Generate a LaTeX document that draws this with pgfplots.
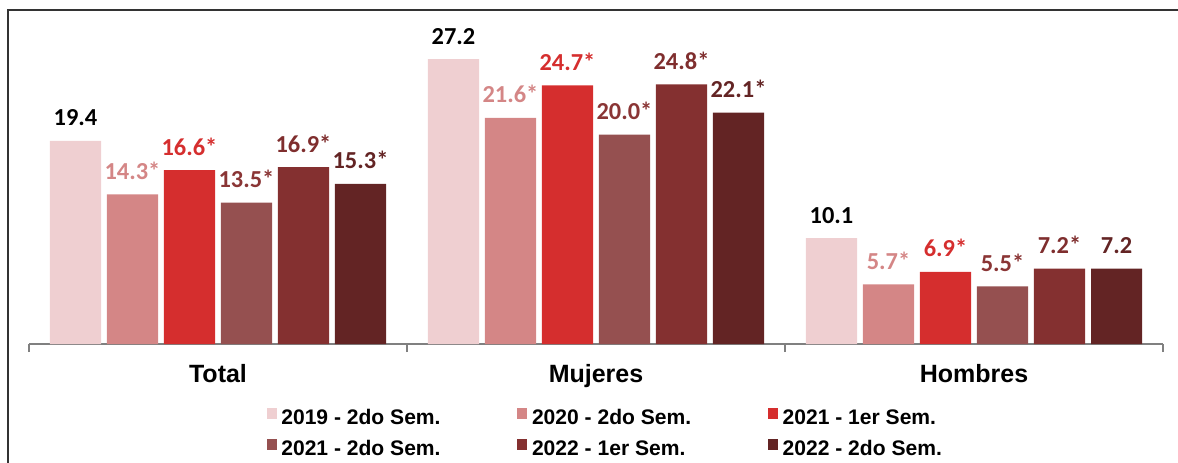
\documentclass[border=0pt]{standalone}
\usepackage{pgfplots}
\pgfplotsset{compat=1.18}
\usepackage{fontspec}
\setmainfont{Liberation Sans}
\newfontfamily\valfont{Carlito}

\definecolor{c1}{HTML}{EFCFD1}
\definecolor{c2}{HTML}{D48686}
\definecolor{c3}{HTML}{D52E2E}
\definecolor{c4}{HTML}{955050}
\definecolor{c5}{HTML}{843030}
\definecolor{c6}{HTML}{632424}
\definecolor{t4}{HTML}{8A3535}
\definecolor{t5}{HTML}{7F2E2E}

\begin{document}
\begin{tikzpicture}
  % frame round the chart, cut on the right and at the bottom
  \draw[black!80, line width=1.5pt] (6.2pt,-10pt) rectangle (895pt,339pt);
  \begin{axis}[
    at={(21.75pt,88.5pt)}, anchor=south west,
    scale only axis, width=850.5pt, height=235.6pt,
    xmin=-0.5, xmax=2.5, ymin=0, ymax=30,
    ybar, bar width=0.135,
    axis x line*=bottom, axis y line=none,
    x axis line style={-, draw=black!50, line width=0.9pt},
    tick align=outside,
    xtick={0,1,2}, xticklabels={Total,Mujeres,Hombres},
    major tick length=0pt,
    extra x ticks={-0.5,0.5,1.5,2.5},
    extra x tick labels={},
    extra x tick style={major tick length=6pt, tick style={draw=black!50, line width=0.9pt}},
    xticklabel style={font=\bfseries\fontsize{18.75}{18.75}\selectfont, anchor=base, yshift=-29pt},
    point meta=explicit symbolic,
    nodes near coords,
    nodes near coords style={font=\valfont\bfseries\fontsize{18.3}{18.3}\selectfont, anchor=base, inner sep=0pt, yshift=11.25pt},
    lg/.style={legend image code/.code={\fill[#1] (0pt,0pt) rectangle (7.5pt,8.5pt);}},
    legend cell align=left,
    legend style={at={(axis description cs:0.2096,-0.2025)}, anchor=north west,
      draw=none, fill=none, inner sep=0pt, outer sep=0pt,
      font=\bfseries\fontsize{15.8}{15.8}\selectfont,
      legend columns=3, row sep=8pt,
      nodes={inner sep=0pt, text height=11pt, text depth=3pt},
      /tikz/every odd column/.append style={column sep=3.5pt}},
  ]
    \addplot[fill=c1, draw=none, bar shift=-0.377, lg=c1,
      every node near coord/.append style={text=black}]
      coordinates {(0,19.4) [19.4] (1,27.2) [27.2] (2,10.1) [10.1]};
    \addlegendentry{\makebox[177pt][l]{2019 - 2do Sem.}}
    \addplot[fill=c2, draw=none, bar shift=-0.2262, lg=c2,
      every node near coord/.append style={text=c2}]
      coordinates {(0,14.3) [14.3*] (1,21.6) [21.6*] (2,5.7) [5.7*]};
    \addlegendentry{\makebox[177pt][l]{2020 - 2do Sem.}}
    \addplot[fill=c3, draw=none, bar shift=-0.0754, lg=c3,
      every node near coord/.append style={text=c3}]
      coordinates {(0,16.6) [16.6*] (1,24.7) [24.7*] (2,6.9) [6.9*]};
    \addlegendentry{\makebox[177pt][l]{2021 - 1er Sem.}}
    \addplot[fill=c4, draw=none, bar shift=0.0754, lg=c4,
      every node near coord/.append style={text=t4}]
      coordinates {(0,13.5) [13.5*] (1,20.0) [20.0*] (2,5.5) [5.5*]};
    \addlegendentry{\makebox[177pt][l]{2021 - 2do Sem.}}
    \addplot[fill=c5, draw=none, bar shift=0.2262, lg=c5,
      every node near coord/.append style={text=t5}]
      coordinates {(0,16.9) [16.9*] (1,24.8) [24.8*] (2,7.2) [7.2*]};
    \addlegendentry{\makebox[177pt][l]{2022 - 1er Sem.}}
    \addplot[fill=c6, draw=none, bar shift=0.377, lg=c6,
      every node near coord/.append style={text=c6}]
      coordinates {(0,15.3) [15.3*] (1,22.1) [22.1*] (2,7.2) [7.2]};
    \addlegendentry{\makebox[177pt][l]{2022 - 2do Sem.}}
  \end{axis}
  \pgfresetboundingbox
  \path[use as bounding box] (0pt,0pt) rectangle (883.5pt,346.5pt);
\end{tikzpicture}
\end{document}
